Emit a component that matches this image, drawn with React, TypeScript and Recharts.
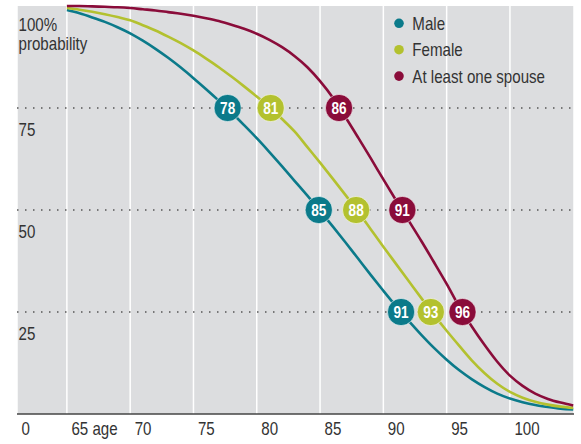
import React from 'react';
import {
  LineChart,
  Line,
  XAxis,
  YAxis,
  CartesianGrid,
  ReferenceLine,
  ReferenceDot,
  Legend,
} from 'recharts';

// ---- data ----
const ages = [
  65, 66, 67, 68, 69, 70, 71, 72, 73, 74, 75, 76, 77, 78, 79, 80, 81, 82, 83, 84, 85,
  86, 87, 88, 89, 90, 91, 92, 93, 94, 95, 96, 97, 98, 99, 100, 101, 102, 103, 104, 105,
];
const male = [
  99, 98.2, 97.2, 96.1, 94.8, 93.3, 91.5, 89.5, 87.3, 84.9, 82.3, 79.6, 76.8, 73.9, 70.8, 67.6,
  64.2, 60.7, 57.1, 53.5, 49.8, 46.0, 42.1, 38.1, 34.1, 30.2, 26.4, 22.8, 19.4, 16.2, 13.3, 10.7,
  8.5, 6.6, 5.0, 3.8, 2.9, 2.2, 1.7, 1.3, 1.1,
];
const female = [
  99.5, 99.1, 98.6, 98.0, 97.3, 96.5, 95.3, 94.0, 92.5, 90.9, 89.1, 87.1, 85.0, 82.7, 80.3, 77.8,
  75.2, 72.3, 69.2, 65.4, 61.6, 57.7, 53.7, 49.6, 45.3, 41.0, 36.8, 32.6, 28.4, 24.3, 20.4, 16.7,
  13.1, 10.0, 7.4, 5.4, 4.0, 3.0, 2.3, 1.8, 1.5,
];
const spouse = [
  100, 100, 99.9, 99.8, 99.7, 99.5, 99.2, 98.9, 98.5, 98.1, 97.6, 97.0, 96.3, 95.4, 94.4, 93.2,
  91.7, 89.9, 87.7, 85.0, 81.6, 77.6, 72.8, 67.8, 62.7, 57.5, 52.4, 47.4, 42.4, 37.2, 31.9, 26.3,
  21.4, 16.9, 12.8, 9.4, 6.9, 5.0, 3.7, 2.8, 2.1,
];

const seriesKeys = ['male', 'female', 'spouse'];
const seriesNames = ['Male', 'Female', 'At least one spouse'];
const seriesColors = ['#0b7a8a', '#b3c12f', '#8a0c3a'];

const xMin = 61.06;
const xMax = 105.06;
const xTicks = [61.06, 65, 70, 75, 80, 85, 90, 95, 100];
const xTickLabels = ['0', '65 age', '70', '75', '80', '85', '90', '95', '100'];
const yTicks = [25, 50, 75, 100];
const yTickLabels = ['25', '50', '75', '100%'];
const yTopSubLabel = 'probability';
const levels = [75, 50, 25];

const maleMarkerAges = [77.7, 84.9, 91.4];
const maleMarkerLabels = ['78', '85', '91'];
const femaleMarkerAges = [81.1, 87.85, 93.75];
const femaleMarkerLabels = ['81', '88', '93'];
const spouseMarkerAges = [86.5, 91.5, 96.25];
const spouseMarkerLabels = ['86', '91', '96'];

const markerAges = [maleMarkerAges, femaleMarkerAges, spouseMarkerAges];
const markerLabels = [maleMarkerLabels, femaleMarkerLabels, spouseMarkerLabels];

const table = ages.map((a, i) => ({
  age: a,
  male: male[i],
  female: female[i],
  spouse: spouse[i],
}));

const FONT = '"Liberation Sans", Arial, sans-serif';
const TEXT = '#333333';
const SQUEEZE = 0.84;

const NarrowText = (props: any) => {
  const { x, y, children, size = 18, fill = TEXT, anchor = 'start', weight = 'normal', squeeze = SQUEEZE } = props;
  return (
    <text
      transform={`translate(${x},${y}) scale(${squeeze},1)`}
      x={0}
      y={0}
      fill={fill}
      fontSize={size}
      fontWeight={weight}
      fontFamily={FONT}
      textAnchor={anchor}
    >
      {children}
    </text>
  );
};

const XTick = (props: any) => {
  const { x, payload } = props;
  const idx = xTicks.indexOf(payload.value);
  return (
    <NarrowText x={x + 4.5} y={435}>
      {xTickLabels[idx]}
    </NarrowText>
  );
};

const YTick = (props: any) => {
  const { y, payload } = props;
  const idx = yTicks.indexOf(payload.value);
  if (payload.value === 100) {
    return (
      <g>
        <NarrowText x={18.5} y={31}>{yTickLabels[idx]}</NarrowText>
        <NarrowText x={18.5} y={50}>{yTopSubLabel}</NarrowText>
      </g>
    );
  }
  return (
    <NarrowText x={18.5} y={y + 28}>
      {yTickLabels[idx]}
    </NarrowText>
  );
};

const LegendContent = () => (
  <svg width={190} height={90} style={{ display: 'block' }}>
    {seriesNames.map((n, i) => (
      <g key={n}>
        <circle cx={19} cy={23.3 + i * 26.4} r={4.8} fill={seriesColors[i]} />
        <NarrowText x={32.3} y={29.5 + i * 26.6}>
          {n}
        </NarrowText>
      </g>
    ))}
  </svg>
);

const makeMarker = (label: string, color: string) => (p: any) => {
  const { cx, cy } = p;
  return (
    <g>
      <circle cx={cx} cy={cy} r={13.6} fill={color} stroke="rgba(255,255,255,0.55)" strokeWidth={1} />
      <NarrowText x={cx} y={cy + 6} size={17} fill="#ffffff" anchor="middle" weight="bold" squeeze={0.8}>
        {label}
      </NarrowText>
    </g>
  );
};

export default function App() {
  return (
    <div style={{ position: 'absolute', left: 0, top: 0, fontFamily: FONT }}>
      <LineChart
        width={581}
        height={444}
        data={table}
        margin={{ top: 6, right: 7, bottom: 0, left: 0 }}
      >
        <CartesianGrid
          horizontal={false}
          vertical={true}
          fill="#dcdddf"
          fillOpacity={1}
          stroke="#ffffff"
          strokeWidth={1.5}
        />
        <XAxis
          type="number"
          dataKey="age"
          domain={[xMin, xMax]}
          ticks={xTicks}
          interval={0}
          allowDataOverflow
          height={30}
          tickLine={false}
          axisLine={{ stroke: '#444444', strokeWidth: 1.5 }}
          tick={<XTick />}
        />
        <YAxis
          type="number"
          domain={[0, 100]}
          ticks={yTicks}
          interval={0}
          width={17}
          axisLine={false}
          tickLine={false}
          tick={<YTick />}
        />
        {levels.map((lv) => (
          <ReferenceLine
            key={lv}
            y={lv}
            stroke="#555555"
            strokeWidth={1.6}
            strokeDasharray="1.5 6.5"
          />
        ))}
        <Legend
          layout="vertical"
          align="center"
          verticalAlign="middle"
          content={<LegendContent />}
          wrapperStyle={{ left: 380, top: 0, width: 190, height: 90 }}
        />
        {seriesKeys.map((k, i) => (
          <Line
            key={k}
            type="monotone"
            dataKey={k}
            name={seriesNames[i]}
            stroke={seriesColors[i]}
            strokeWidth={2.6}
            dot={false}
            activeDot={false}
            isAnimationActive={false}
          />
        ))}
        {seriesKeys.map((k, i) =>
          markerAges[i].map((a, j) => (
            <ReferenceDot
              key={k + j}
              x={a}
              y={levels[j]}
              r={13.6}
              ifOverflow="visible"
              shape={makeMarker(markerLabels[i][j], seriesColors[i])}
            />
          ))
        )}
      </LineChart>
    </div>
  );
}
